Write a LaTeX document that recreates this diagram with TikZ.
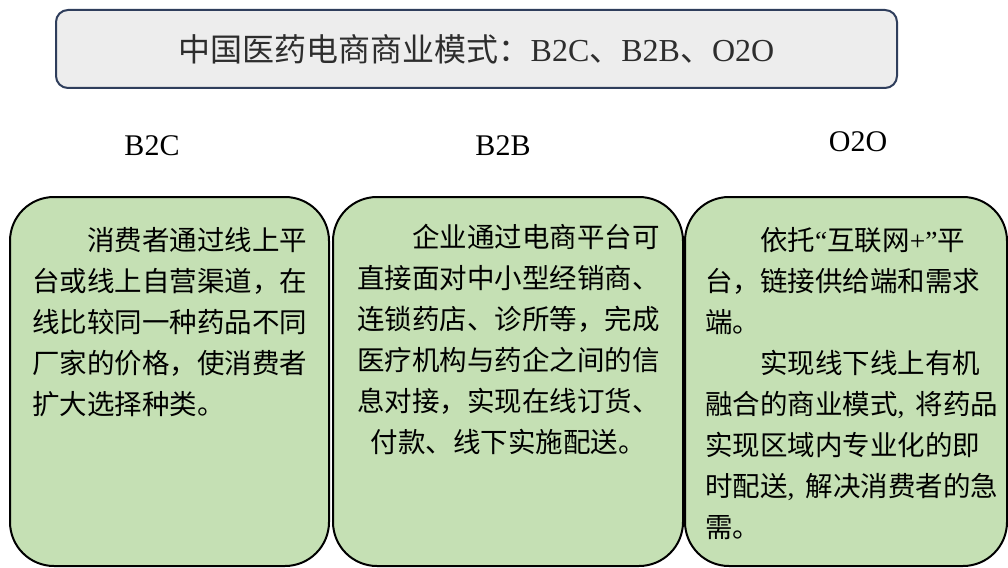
\documentclass[tikz,border=0pt]{standalone}
\usepackage{fontspec}
\setmainfont{Liberation Serif}
\newfontfamily\cjk{Noto Sans CJK SC}
\definecolor{boxgreen}{RGB}{197,224,180}
\definecolor{titlefill}{RGB}{237,237,237}
\definecolor{titleedge}{RGB}{47,62,92}
\definecolor{titletext}{RGB}{45,45,45}
\newcommand{\nc}{{\rmfamily,}\hspace{0.4em}}
\begin{document}
\begin{tikzpicture}[x=1pt,y=-1pt,
  card/.style={draw=black,line width=2pt,fill=boxgreen,rounded corners=44pt,minimum height=369pt,inner sep=0pt},
  modelname/.style={inner sep=0pt,font=\fontsize{30}{36}\selectfont},
  body/.style={anchor=base west,inner sep=0pt,text width=310pt,align=left,font=\cjk\fontsize{27.5}{41}\selectfont}
]
\useasboundingbox[fill=white] (0,0) rectangle (1008,567);
% title
\node[draw=titleedge,line width=2pt,fill=titlefill,rounded corners=12pt,
      minimum width=841pt,minimum height=78pt,inner sep=0pt,text=titletext,
      font=\fontsize{32}{38}\selectfont] (title) at (476.5,49)
  {{\cjk 中国医药电商商业模式：}B2C{\cjk 、}B2B{\cjk 、}O2O};
% model names
\node[modelname] (lb2c) at (152,146) {B2C};
\node[modelname] (lb2b) at (503,146) {B2B};
\node[modelname] (lo2o) at (858,142) {O2O};
% cards
\node[card,minimum width=319pt] (box1) at (169.5,381.5) {};
\node[card,minimum width=350pt] (box2) at (508,381.5) {};
\node[card,minimum width=322pt] (box3) at (846,381.5) {};
% texts
\node[body] (t1) at (32,250) {\hspace*{2em}消费者通过线上平\\
台或线上自营渠道，在\\
线比较同一种药品不同\\
厂家的价格，使消费者\\
扩大选择种类。};
\node[body] (t2) at (357,247) {\hspace*{2em}企业通过电商平台可\\
直接面对中小型经销商、\\
连锁药店、诊所等，完成\\
医疗机构与药企之间的信\\
息对接，实现在线订货、\\
\hspace*{0.5em}付款、线下实施配送。};
\node[body] (t3) at (705,250) {\hspace*{2em}依托{\rmfamily “}互联网{\rmfamily +”}平\\
台，链接供给端和需求\\
端。\\
\hspace*{2em}实现线下线上有机\\
融合的商业模式\nc 将药品\\
实现区域内专业化的即\\
时配送\nc 解决消费者的急\\
需。};
\end{tikzpicture}
\end{document}
